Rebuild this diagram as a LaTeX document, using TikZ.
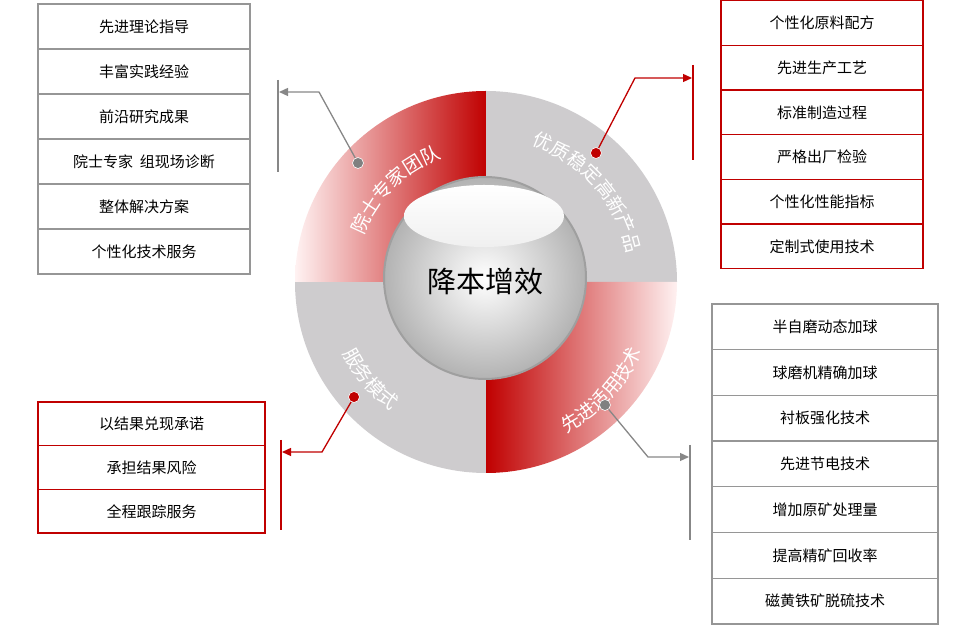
\documentclass[tikz,border=0pt]{standalone}
\usepackage{fontspec}
\newfontfamily\cjk{Noto Sans CJK SC}
\usetikzlibrary{decorations.text,arrows.meta,calc}
\definecolor{myred}{RGB}{192,0,0}
\definecolor{ringgray}{RGB}{206,204,206}
\definecolor{boxgray}{RGB}{150,150,150}
\begin{document}
\begin{tikzpicture}[x=1pt,y=1pt,
  gbox/.style={draw=boxgray,line width=1.3pt,fill=white,font=\cjk\fontsize{15}{15}\selectfont,inner sep=0pt},
  rbox/.style={draw=myred,line width=1.3pt,fill=white,font=\cjk\fontsize{15}{15}\selectfont,inner sep=0pt},
  rdot/.style={circle,fill=myred,draw=white,line width=0.6pt,minimum size=11pt,inner sep=0pt},
  gdot/.style={circle,fill=gray,draw=white,line width=0.6pt,minimum size=11pt,inner sep=0pt},
  rline/.style={myred,line width=1.3pt},
  gline/.style={boxgray!90!black,line width=1.3pt},
  arrtip/.style={-{Triangle[length=9pt,width=8pt]}},
  ringtext/.style={decorate,decoration={text along path,text align=center,text={#1}}}
]
\useasboundingbox (0,0) rectangle (975,626);
\coordinate (C) at (486,344);
% quadrants
\fill[ringgray] (C) -- ++(0:191) arc (0:90:191) -- cycle;
\fill[ringgray] (C) -- ++(180:191) arc (180:270:191) -- cycle;
\begin{scope}
\clip (C) -- ++(180:191) arc (180:90:191) -- cycle;
\shade[left color=red!5!white, right color=myred] (295,344) rectangle (487,536);
\end{scope}
\begin{scope}
\clip (C) -- ++(270:191) arc (270:360:191) -- cycle;
\shade[left color=myred, right color=red!5!white] (486,152) rectangle (678,344);
\end{scope}
% ring texts
\path[ringtext={|\cjk\fontsize{19}{19}\selectfont\color{white}|院士专家团队}] ($(C)+(184:131)$) arc (184:85:131);
\path[ringtext={|\cjk\fontsize{19}{19}\selectfont\color{white}|优质稳定高新产品}] ($(C)+(95:144)$) arc (95:-12:144);
\path[ringtext={|\cjk\fontsize{19}{19}\selectfont\color{white}|服务模式}] ($(C)+(180:160)$) arc (180:260:160);
\path[ringtext={|\cjk\fontsize{19}{19}\selectfont\color{white}|先进适用技术}] ($(C)+(270:171)$) arc (270:364:171);
% sphere
\shade[inner color=white, outer color=gray!60] (485,348) circle (101);
\draw[gray!75,line width=2pt] (485,348) circle (101);
\shade[top color=white, bottom color=gray!12] (484,410) ellipse (80 and 31);
\node[font=\cjk\fontsize{29}{29}\selectfont] (center) at (485,344) {降本增效};
% dots and connectors
\node[gdot] (d1) at (358,463) {};
\node[rdot] (d2) at (596,473) {};
\node[rdot] (d3) at (354,229) {};
\node[gdot] (d4) at (605,221) {};
\coordinate (b1) at (319,534); \coordinate (e1) at (279,534);
\coordinate (b2) at (635,548); \coordinate (e2) at (692,548);
\coordinate (b3) at (322,174); \coordinate (e3) at (282,174);
\coordinate (b4) at (648,169); \coordinate (e4) at (689,169);
\draw[gline,arrtip] (d1) -- (b1) -- (e1);
\draw[rline,arrtip] (d2) -- (b2) -- (e2);
\draw[rline,arrtip] (d3) -- (b3) -- (e3);
\draw[gline,arrtip] (d4) -- (b4) -- (e4);
\draw[gline] (278,546) -- (278,454);
\draw[rline] (693,561) -- (693,466);
\draw[rline] (281,186) -- (281,96);
\draw[gline] (690,181) -- (690,86);
% left top boxes
\foreach \t [count=\i from 0] in {先进理论指导,丰富实践经验,前沿研究成果,院士专家\ \ 组现场诊断,整体解决方案,个性化技术服务}
  \node[gbox,minimum width=212pt,minimum height=45pt] (lt\i) at (144,{626-26.5-45*\i}) {\t};
% right top boxes
\foreach \t [count=\i from 0] in {个性化原料配方,先进生产工艺,标准制造过程,严格出厂检验,个性化性能指标,定制式使用技术}
  \node[rbox,minimum width=202pt,minimum height=44.7pt] (rt\i) at (822,{626-23-44.7*\i}) {\t};
% right bottom boxes
\foreach \t [count=\i from 0] in {半自磨动态加球,球磨机精确加球,衬板强化技术,先进节电技术,增加原矿处理量,提高精矿回收率,磁黄铁矿脱硫技术}
  \node[gbox,minimum width=226pt,minimum height=45.7pt] (rb\i) at (825,{626-304-22.85-45.7*\i}) {\t};
% left bottom boxes
\foreach \t [count=\i from 0] in {以结果兑现承诺,承担结果风险,全程跟踪服务}
  \node[rbox,minimum width=227pt,minimum height=43.7pt] (lb\i) at (151.5,{626-402-21.85-43.7*\i}) {\t};
\end{tikzpicture}
\end{document}
